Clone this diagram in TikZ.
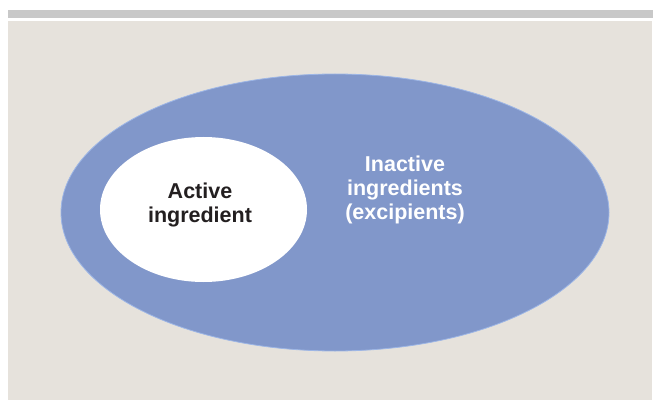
\documentclass[tikz,border=0pt]{standalone}
\usepackage{fontspec}
\setmainfont{Liberation Sans}
\definecolor{panel}{HTML}{E6E2DC}
\definecolor{bar}{HTML}{C8C8C8}
\definecolor{blueell}{HTML}{8197CA}
\definecolor{blueedge}{HTML}{9DB6E6}
\definecolor{txt}{HTML}{231F20}
\tikzset{
  lbl/.style={font=\fontsize{21.5}{24}\selectfont\bfseries, align=center, inner sep=0pt},
}
\begin{document}
\begin{tikzpicture}[x=1pt,y=-1pt]
\useasboundingbox (0,0) rectangle (653,401);
\fill[white] (0,0) rectangle (653,401);
\fill[bar] (8,10) rectangle (653,18);
\fill[panel] (8,21) rectangle (652,400);
\fill[blueell, draw=blueedge, line width=0.8pt] (335,212.5) ellipse [x radius=274, y radius=138.5];
\fill[white] (203.5,209.5) ellipse [x radius=103.5, y radius=72.5];
\node[lbl, text=txt, anchor=base] (act) at (200,222.5) {Active\\ingredient};
\node[lbl, text=white, anchor=base] (inact) at (405,219.5) {Inactive\\ingredients\\(excipients)};
\end{tikzpicture}
\end{document}
